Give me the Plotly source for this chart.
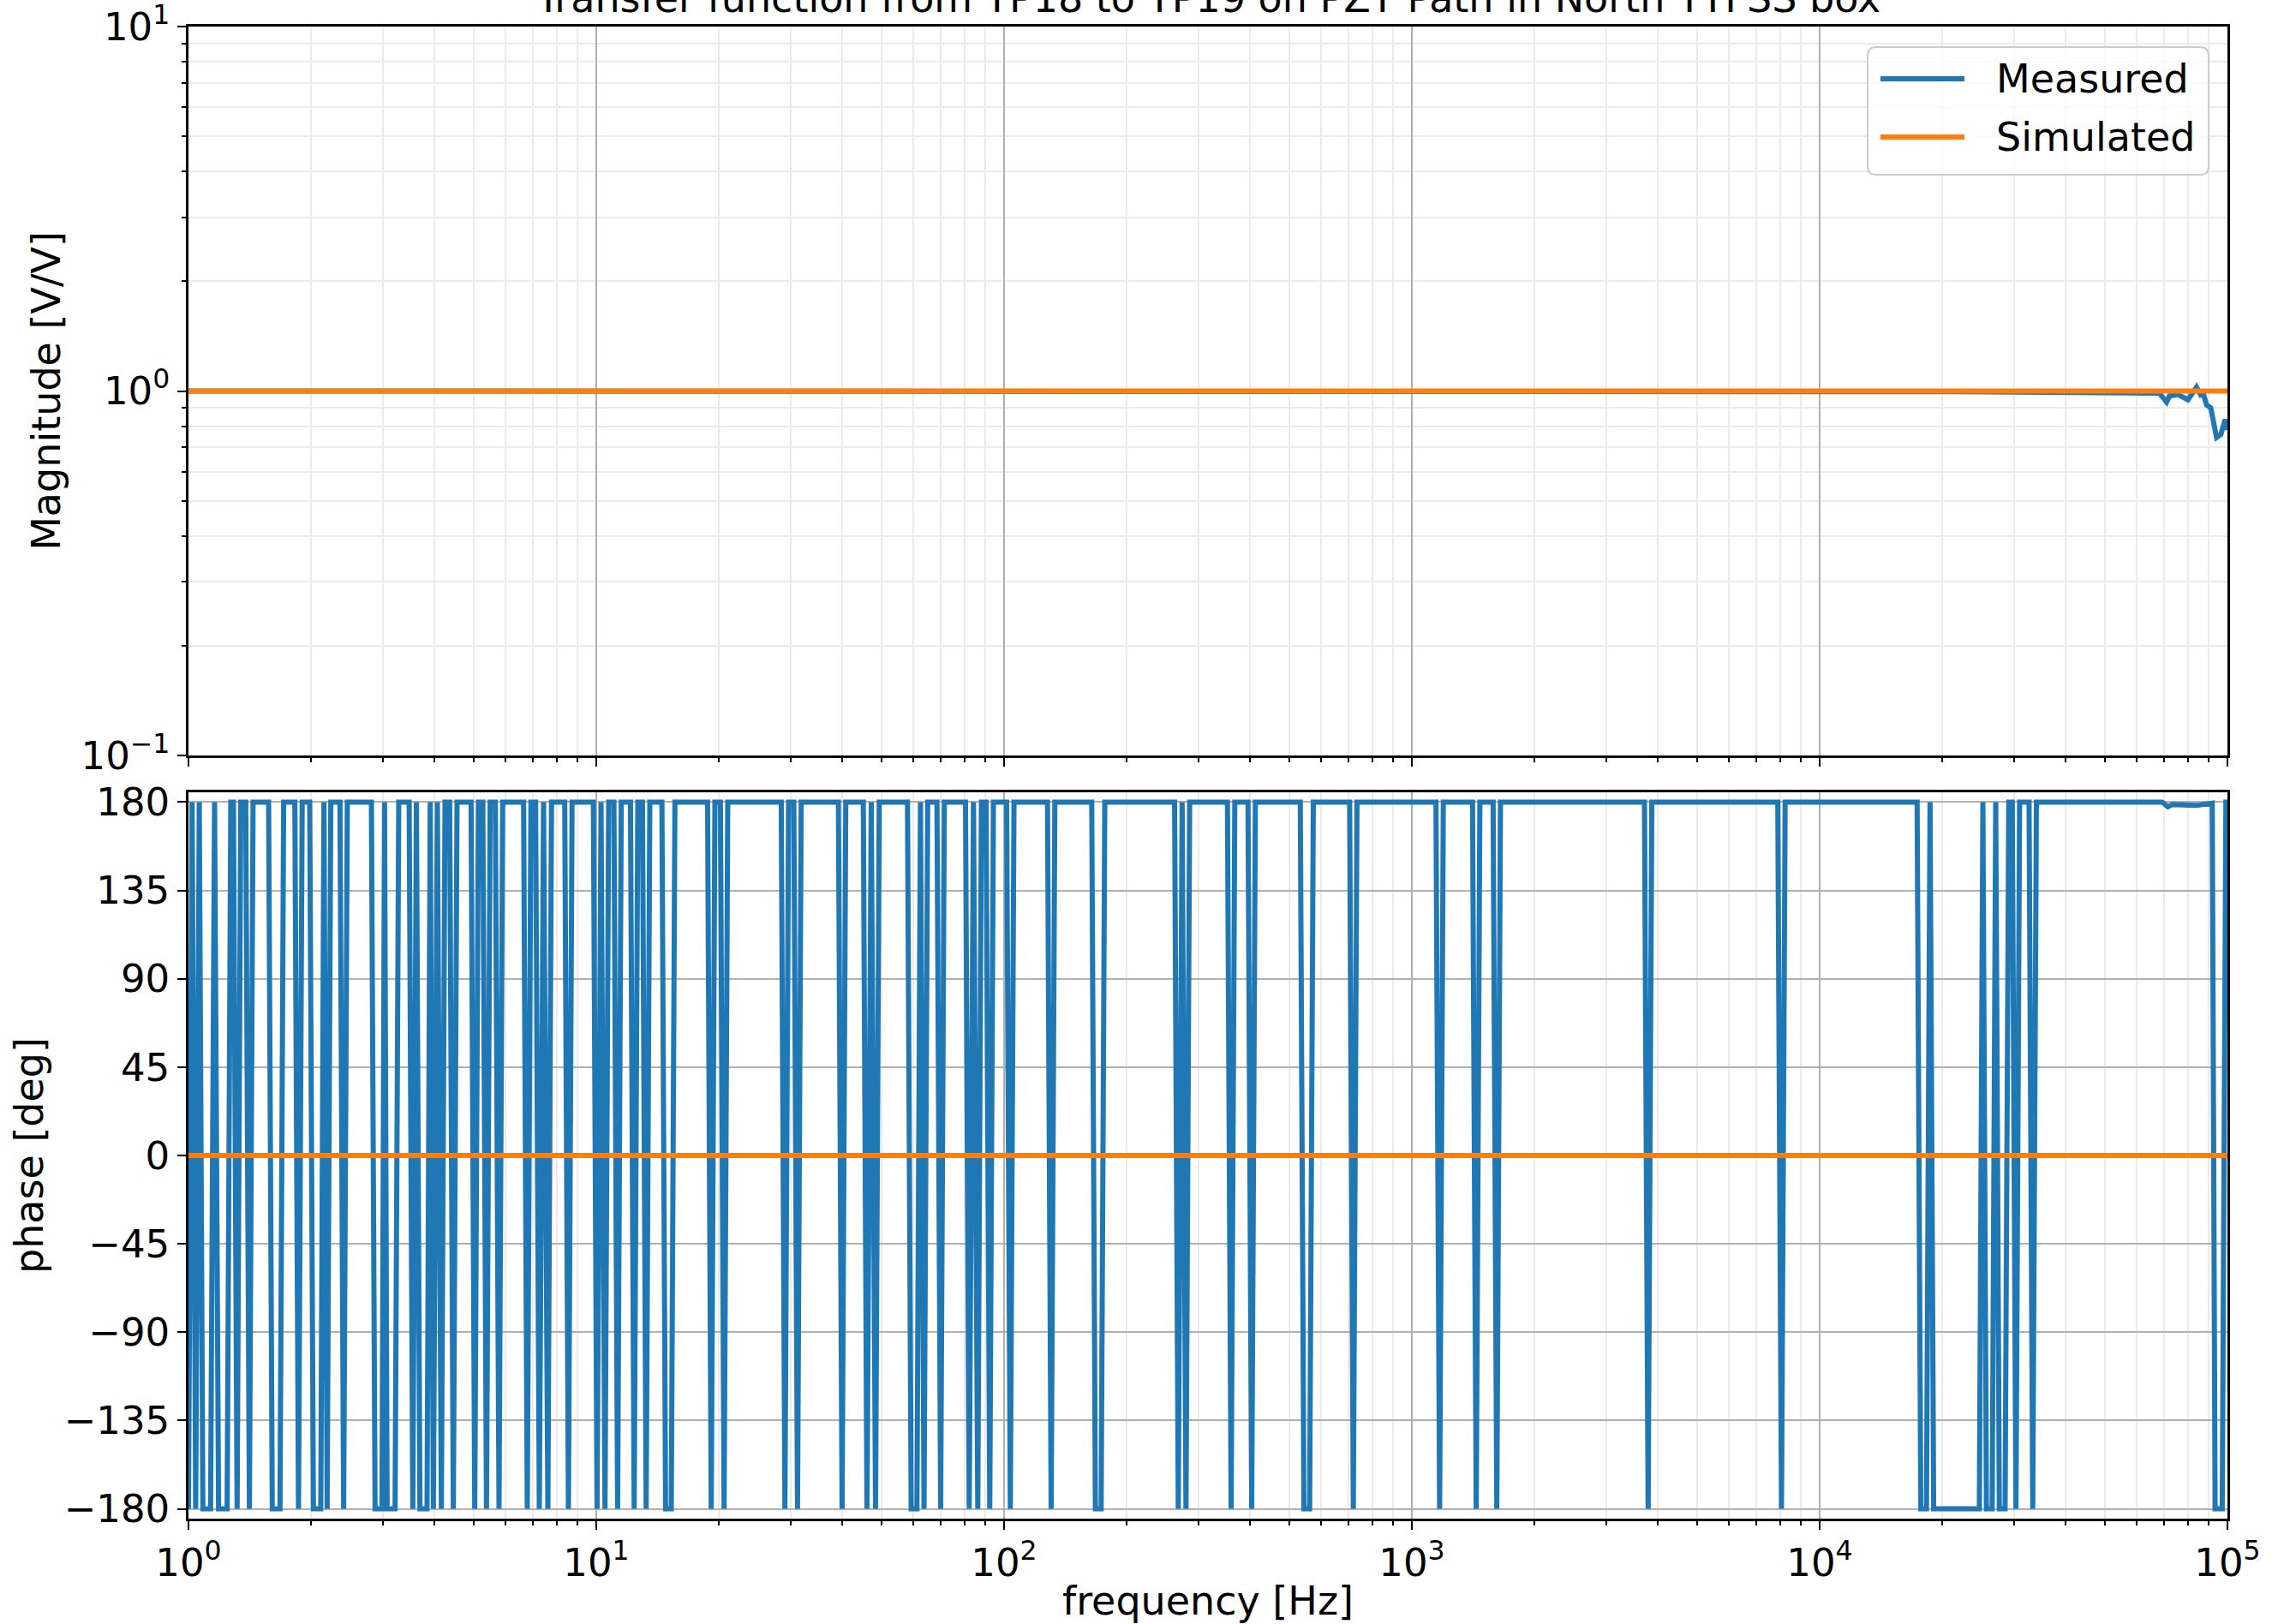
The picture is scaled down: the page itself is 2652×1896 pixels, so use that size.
import plotly.graph_objects as go

# ------------------------------------------------------------------ data
# Measured phase (deg) vs frequency (Hz) -- vertices
meas_phase_freq = [
    1.000, 1.0207, 1.0416, 1.0629, 1.0847, 1.1329, 1.1588, 1.1852, 1.2440, 1.2700,
    1.2892, 1.3161, 1.3437, 1.3817, 1.4106, 1.4401, 1.5722, 1.6051, 1.6765, 1.7116,
    1.8232, 1.8614, 1.9003, 1.9830, 2.0245, 2.1106, 2.1489, 2.1878, 2.2336, 2.3524,
    2.4016, 2.4519, 2.8093, 2.8682, 2.9820, 3.0256, 3.0698, 3.2108, 3.2780, 3.4762,
    3.5490, 3.6217, 3.6950, 3.8459, 3.9156, 3.9857, 4.0766, 4.1697, 4.2570, 4.3702,
    4.4617, 4.5551, 4.9317, 5.0350, 5.1404, 5.2698, 5.3802, 5.4928, 5.6558, 5.7742,
    5.8951, 6.6343, 6.7732, 6.9150, 7.1005, 7.2493, 7.4264, 7.6081, 7.7674, 8.3690,
    8.5442, 8.7231, 9.8379, 10.044, 10.273, 10.505, 10.725, 11.048, 11.280, 11.516,
    12.131, 12.385, 12.644, 12.981, 13.252, 13.530, 14.487, 14.791, 15.272, 15.592,
    18.747, 19.139, 19.540, 20.157, 20.579, 21.010, 28.418, 29.014, 29.622, 30.512,
    31.152, 31.805, 39.247, 40.069, 40.908, 45.168, 46.114, 47.243, 48.399, 49.413,
    57.969, 59.183, 61.136, 62.373, 63.635, 64.968, 68.470, 69.904, 71.368, 80.441,
    82.125, 84.140, 86.199, 88.004, 90.345, 92.236, 94.168, 101.46, 103.59, 105.75,
    127.79, 130.47, 133.20, 164.06, 167.49, 172.98, 176.60, 261.93, 267.42, 273.33,
    279.31, 285.17, 353.02, 360.41, 367.97, 396.45, 404.76, 413.23, 532.60, 543.76,
    561.45, 573.21, 703.72, 718.46, 733.50, 1145.8, 1169.8, 1194.3, 1408.6, 1438.1,
    1468.3, 1582.3, 1615.4, 1649.3, 3718.8, 3796.6, 3876.2, 7895.1, 8060.4, 8229.2,
    17338, 17701, 18277, 18652, 19037, 24637, 25135, 25644, 26490, 27026,
    27580, 28490, 29087, 29669, 30290, 30924, 32621, 33304, 34002, 69150,
    71460, 73210, 83965, 89543, 91772, 93264, 97095, 99130, 100000,
]
meas_phase_deg = [
    -180, 180, -180, 180, -180, -180, 180, -180, -180, 180,
    180, -180, 180, 180, -180, 180, 180, -180, -180, 180,
    180, -180, 180, 180, -180, -180, 180, -180, 180, 180,
    -180, 180, 180, -180, -180, 180, -180, -180, 180, 180,
    -180, 180, -180, -180, 180, -180, 180, -180, 180, 180,
    -180, 180, 180, -180, 180, 180, -180, 180, 180, -180,
    180, 180, -180, 180, 180, -180, 180, -180, 180, 180,
    -180, 180, 180, -180, 180, -180, 180, 180, -180, 180,
    180, -180, 180, 180, -180, 180, 180, -180, -180, 180,
    180, -180, 180, 180, -180, 180, 180, -180, 180, 180,
    -180, 180, 180, -180, 180, 180, -180, 180, -180, 180,
    180, -180, -180, 180, -180, 180, 180, -180, 180, 180,
    -180, 180, -180, 180, 180, -180, 180, 180, -180, 180,
    180, -180, 180, 180, -180, -180, 180, 180, -180, 180,
    -180, 180, 180, -180, 180, 180, -180, 180, 180, -180,
    -180, 180, 180, -180, 180, 180, -180, 180, 180, -180,
    180, 180, -180, 180, 180, -180, 180, 180, -180, 180,
    180, -180, -180, 180, -180, -180, 180, -180, -180, 180,
    -180, -180, 180, 180, -180, 180, 180, -180, 180, 180,
    177.6, 178.8, 178.3, 178.8, 179.5, -180, -180, 180, 180,
]
assert len(meas_phase_freq) == len(meas_phase_deg)

# Measured magnitude (V/V)
meas_mag_freq = [1.0, 10.0, 100.0, 1000.0, 10000.0, 15850, 21662, 68077, 70898, 72067,
                 75627, 80003, 81960, 83965, 86019, 87437, 88858, 91030, 94037, 96361,
                 98717, 100000]
meas_mag = [1.000, 1.000, 1.000, 1.000, 1.000, 0.999, 0.996, 0.987, 0.933, 0.969,
            0.978, 0.946, 0.981, 1.024, 0.974, 0.978, 0.916, 0.899, 0.746, 0.760,
            0.835, 0.782]

# Simulated response
sim_freq = [1.0, 100000.0]
sim_mag = [1.0, 1.0]
sim_phase = [0.0, 0.0]

# Tick labels
x_tick_vals = [1, 10, 100, 1000, 10000, 100000]
x_tick_text = ["10<sup>0</sup>", "10<sup>1</sup>", "10<sup>2</sup>",
               "10<sup>3</sup>", "10<sup>4</sup>", "10<sup>5</sup>"]
mag_tick_vals = [0.1, 1, 10]
mag_tick_text = ["10<sup>\u22121</sup>", "10<sup>0</sup>", "10<sup>1</sup>"]
phase_tick_vals = [-180, -135, -90, -45, 0, 45, 90, 135, 180]
phase_tick_text = ["\u2212180", "\u2212135", "\u221290", "\u221245", "0",
                   "45", "90", "135", "180"]

title_text = "Transfer function from TP18 to TP19 on PZT Path in North TTFSS box"
legend_names = ["Measured", "Simulated"]

# ------------------------------------------------------------------ style
W, H = 2652, 1896
L, R, T, B = 220, 52, 31, 123
PW, PH = W - L - R, H - T - B
FONT = "DejaVu Sans"
BLUE, ORANGE = "#1f77b4", "#ff7f0e"
GRID_MAJOR, GRID_MINOR = "#b0b0b0", "#ebebeb"
TICK_SIZE, LABEL_SIZE = 45, 46
LW = 6


def fx(p):
    return (p - L) / PW


def fy(p):
    return (H - B - p) / PH


x_minor = [k * 10 ** e for e in range(0, 5) for k in range(2, 10)]
mag_minor = [k * 10 ** e for e in range(-1, 1) for k in range(2, 10)]

fig = go.Figure()
fig.add_trace(go.Scatter(x=meas_mag_freq, y=meas_mag, mode="lines", name=legend_names[0],
                         line=dict(color=BLUE, width=LW), xaxis="x", yaxis="y", showlegend=False))
fig.add_trace(go.Scatter(x=sim_freq, y=sim_mag, mode="lines", name=legend_names[1],
                         line=dict(color=ORANGE, width=LW), xaxis="x", yaxis="y", showlegend=False))
fig.add_trace(go.Scatter(x=meas_phase_freq, y=meas_phase_deg, mode="lines", name=legend_names[0],
                         line=dict(color=BLUE, width=LW), xaxis="x2", yaxis="y2", showlegend=False))
fig.add_trace(go.Scatter(x=sim_freq, y=sim_phase, mode="lines", name=legend_names[1],
                         line=dict(color=ORANGE, width=LW), xaxis="x2", yaxis="y2", showlegend=False))

common = dict(showline=True, linecolor="black", linewidth=2.5, mirror=True,
              ticks="outside", ticklen=10, tickwidth=2, tickcolor="black",
              showgrid=True, gridcolor=GRID_MAJOR, gridwidth=2, zeroline=False,
              automargin=False, ticklabeloverflow="allow",
              tickfont=dict(family=FONT, size=TICK_SIZE, color="black"))
minor_log_x = dict(tickmode="array", tickvals=x_minor, ticks="outside", ticklen=5,
                   tickwidth=1.5, tickcolor="black", showgrid=True,
                   gridcolor=GRID_MINOR, gridwidth=1.5)

top_dom = [fy(882), 1.0]
bot_dom = [0.0, fy(925)]

fig.update_layout(
    width=W, height=H,
    margin=dict(l=L, r=R, t=T, b=B, autoexpand=False),
    paper_bgcolor="white", plot_bgcolor="white",
    font=dict(family=FONT, color="black"),
    showlegend=False,
    xaxis=dict(type="log", range=[0, 5], domain=[0, 1], anchor="y",
               tickmode="array", tickvals=x_tick_vals, ticktext=x_tick_text,
               showticklabels=False, minor=minor_log_x, **common),
    yaxis=dict(type="log", range=[-1.0002, 1.0002], domain=top_dom, anchor="x",
               tickmode="array", tickvals=mag_tick_vals, ticktext=mag_tick_text,
               minor=dict(tickmode="array", tickvals=mag_minor, ticks="outside", ticklen=5,
                          tickwidth=1.5, tickcolor="black", showgrid=True,
                          gridcolor=GRID_MINOR, gridwidth=1.5),
               title=dict(text="Magnitude [V/V]", font=dict(family=FONT, size=LABEL_SIZE),
                          standoff=10),
               **common),
    xaxis2=dict(type="log", range=[0, 5], domain=[0, 1], anchor="y2",
                tickmode="array", tickvals=x_tick_vals, ticktext=x_tick_text,
                minor=minor_log_x,
                title=dict(text="frequency [Hz]", font=dict(family=FONT, size=LABEL_SIZE),
                           standoff=12),
                **common),
    yaxis2=dict(range=[-185, 185], domain=bot_dom, anchor="x2",
                tickmode="array", tickvals=phase_tick_vals, ticktext=phase_tick_text,
                title=dict(text="phase [deg]", font=dict(family=FONT, size=LABEL_SIZE),
                           standoff=10),
                **common),
)

# title (partly cut off by the top edge, like the original)
fig.add_annotation(text=title_text, xref="paper", yref="paper", x=0.5, y=fy(-2),
                   xanchor="center", yanchor="middle", showarrow=False,
                   font=dict(family=FONT, size=LABEL_SIZE, color="black"))

# legend box (rounded)
x0, x1 = fx(2180), fx(2578)
y0, y1 = fy(204), fy(55)
rx, ry = 10 / PW, 10 / PH
path = (f"M {x0+rx},{y1} L {x1-rx},{y1} Q {x1},{y1} {x1},{y1-ry} "
        f"L {x1},{y0+ry} Q {x1},{y0} {x1-rx},{y0} L {x0+rx},{y0} "
        f"Q {x0},{y0} {x0},{y0+ry} L {x0},{y1-ry} Q {x0},{y1} {x0+rx},{y1} Z")
fig.add_shape(type="path", path=path, xref="paper", yref="paper",
              fillcolor="rgba(255,255,255,0.8)", line=dict(color="#cccccc", width=2))
for name, col, yy in [(legend_names[0], BLUE, 92), (legend_names[1], ORANGE, 160)]:
    fig.add_shape(type="line", xref="paper", yref="paper", x0=fx(2195), x1=fx(2293),
                  y0=fy(yy), y1=fy(yy), line=dict(color=col, width=LW))
    fig.add_annotation(text=name, xref="paper", yref="paper", x=fx(2328), y=fy(yy),
                       xanchor="left", yanchor="middle", showarrow=False,
                       font=dict(family=FONT, size=LABEL_SIZE, color="black"))

fig.write_html("out.html", config={"displayModeBar": False},
               post_script="document.body.style.margin='0';document.body.style.overflow='hidden';")
